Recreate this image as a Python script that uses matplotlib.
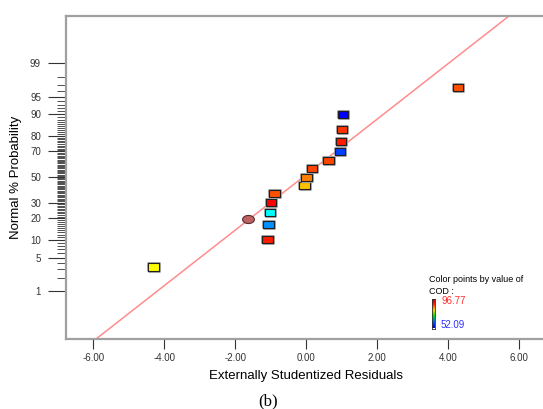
import numpy as np
import matplotlib
matplotlib.use('Agg')
import matplotlib.pyplot as plt
import matplotlib.patheffects as pe
from matplotlib.colors import LinearSegmentedColormap
from statistics import NormalDist

####################################################
# Data
####################################################
resid = [-4.31, -1.09, -1.06, -1.02, -0.99, -0.89, -0.05, 0.00,
         0.16, 0.63, 0.95, 0.98, 1.01, 1.04, 4.27]
prob = [3.3, 10.0, 16.7, 23.3, 30.0, 36.7, 43.3, 50.0,
        56.7, 63.3, 70.0, 76.7, 83.3, 90.0, 96.7]
point_colors = ['#FFFF00', '#FF1A00', '#0090FF', '#00FFFF', '#FF0000', '#FF5000',
                '#FFC000', '#FF8000', '#FF4400', '#FF4400', '#0040FF', '#FF1A00',
                '#FF3300', '#0000FF', '#FF5000']

# highlighted point drawn as an ellipse
ell_resid = [-1.63]
ell_prob = [19.4]

# reference line end points
line_resid = [-5.92, 5.71]
line_prob = [0.047, 99.95]

prob_ticks = [1, 5, 10, 20, 30, 50, 70, 80, 90, 95, 99]
x_ticks = [-6, -4, -2, 0, 2, 4, 6]
cod_max = '96.77'
cod_min = '52.09'

####################################################
# Normal probability scale
####################################################
nd = NormalDist()
_fwd = np.vectorize(lambda p: nd.inv_cdf(min(max(p / 100.0, 1e-9), 1 - 1e-9)))
_inv = np.vectorize(lambda z: nd.cdf(z) * 100.0)


def forward(p):
    return _fwd(np.asarray(p, dtype=float))


def inverse(z):
    return _inv(np.asarray(z, dtype=float))


####################################################
# Plot
####################################################
plt.rcParams['font.family'] = ['Liberation Sans', 'DejaVu Sans']

fig = plt.figure(figsize=(5.43, 4.09), dpi=100)
ax = fig.add_axes([0.1215, 0.1711, 0.8858, 0.7897])
ax.set_yscale('function', functions=(forward, inverse))

ax.set_xlim(-6.77, 6.78)
ax.set_ylim(0.0466, 99.95)

# fitted line
ax.plot(line_resid, line_prob, color='#FF8C8C', lw=1.1, zorder=2)

# rectangular markers with a grey halo
rect = [(-1.5, -1), (1.5, -1), (1.5, 1), (-1.5, 1), (-1.5, -1)]
halo = [pe.withStroke(linewidth=2.2, foreground='#a8a8a8')]
for x, p, c in zip(resid, prob, point_colors):
    ax.plot(x, p, linestyle='none', marker=rect, markersize=7.6,
            markerfacecolor=c, markeredgecolor='#202020',
            markeredgewidth=0.8, zorder=4, path_effects=halo)

t = np.linspace(0, 2 * np.pi, 40)
ell = list(zip(1.45 * np.cos(t), np.sin(t)))
ax.plot(ell_resid, ell_prob, linestyle='none', marker=ell, markersize=8.5,
        markerfacecolor='#C06060', markeredgecolor='#503030',
        markeredgewidth=0.8, zorder=4)

# ticks
ax.set_xticks(x_ticks)
ax.set_xticklabels(['%.2f' % v for v in x_ticks])
ax.set_yticks(prob_ticks)
ax.set_yticklabels([str(v) for v in prob_ticks])
ax.set_yticks(list(range(1, 100)), minor=True)
ax.tick_params(axis='x', direction='out', length=7, width=0.8, color='#333333',
               labelsize=7, labelcolor='#333333', pad=3)
ax.tick_params(axis='y', which='major', direction='out', length=13, width=0.8,
               color='#333333', labelsize=7, labelcolor='#333333', pad=5)
ax.tick_params(axis='y', which='minor', direction='out', length=6.5, width=0.6,
               color='#333333')

for side in ['left', 'bottom', 'top', 'right']:
    ax.spines[side].set_color('#A0A0A0')
    ax.spines[side].set_linewidth(1.6)

ax.set_xlabel('Externally Studentized Residuals', fontsize=9.5, labelpad=5)
ax.set_ylabel('Normal % Probability', fontsize=9.5, labelpad=6)

# colour legend
fig.text(429 / 543, 1 - 280 / 409, 'Color points by value of', fontsize=6.5,
         va='center', ha='left')
fig.text(429 / 543, 1 - 291 / 409, 'COD :', fontsize=6.5, va='center', ha='left')
cax = fig.add_axes([431.5 / 543, 1 - 328.5 / 409, 3 / 543, 30 / 409])
cmap = LinearSegmentedColormap.from_list('cod', ['#0000C0', '#0060FF', '#00E000',
                                                 '#FFD000', '#FF2000', '#A00000'])
cax.imshow(np.linspace(0, 1, 64).reshape(-1, 1), cmap=cmap, aspect='auto',
           origin='lower')
cax.set_xticks([])
cax.set_yticks([])
for s in cax.spines.values():
    s.set_color('#303030')
    s.set_linewidth(0.6)
fig.text(441 / 543, 1 - 301 / 409, cod_max, fontsize=7, color='#FF3030',
         va='center', ha='left')
fig.text(441 / 543, 1 - 325 / 409, cod_min, fontsize=7, color='#3030FF',
         va='center', ha='left')

fig.text(268 / 543, 1 - 401 / 409, '(b)', fontsize=12,
         family=['Liberation Serif', 'DejaVu Serif'], ha='center', va='center')

fig.savefig('out.png', dpi=100)
